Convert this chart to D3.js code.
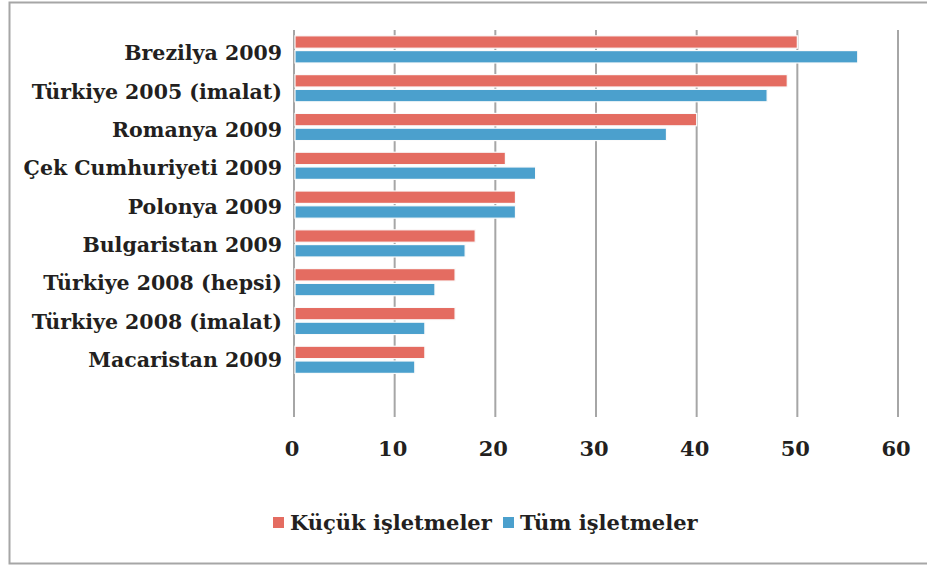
<!DOCTYPE html>
<html>
<head>
<meta charset="utf-8">
<script src="https://d3js.org/d3.v7.min.js"></script>
<style>
  body { margin: 0; background: #fff; }
  .lbl { font-family: "DejaVu Serif", serif; font-weight: bold; fill: #231f20; }
</style>
</head>
<body>
<div id="chart"></div>
<script>
// categories, top to bottom
var categories = [
  "Brezilya 2009",
  "Türkiye 2005 (imalat)",
  "Romanya 2009",
  "Çek Cumhuriyeti 2009",
  "Polonya 2009",
  "Bulgaristan 2009",
  "Türkiye 2008 (hepsi)",
  "Türkiye 2008 (imalat)",
  "Macaristan 2009"
];
var seriesNames = ["Küçük işletmeler", "Tüm işletmeler"];
var smallFirms = [50, 49, 40, 21, 22, 18, 16, 16, 13];
var allFirms = [56, 47, 37, 24, 22, 17, 14, 13, 12];
var xTicks = [0, 10, 20, 30, 40, 50, 60];
var colors = ["#e46c61", "#4ba0cd"];

var svgWidth = 927, svgHeight = 565;

var svg = d3.select("#chart")
  .append("svg")
  .attr("width", svgWidth)
  .attr("height", svgHeight);

// outer frame (right edge runs off the picture)
svg.append("rect")
  .attr("x", 9.5).attr("y", 2.5)
  .attr("width", 940).attr("height", 561)
  .attr("fill", "none")
  .attr("stroke", "#a6a6a6")
  .attr("stroke-width", 2);

var plotTop = 30, plotBottom = 417;

var x = d3.scaleLinear().domain([0, 60]).range([294, 898]);

// 9 categories, room for one more empty slot under the last one
var y = d3.scaleBand()
  .domain(categories)
  .range([plotTop, plotTop + 38.8 * 9])
  .paddingInner(0.3)
  .paddingOuter(0.15);

var ySub = d3.scaleBand()
  .domain(seriesNames)
  .range([0, y.bandwidth()])
  .paddingInner(0.16);

// gridlines
svg.append("g")
  .selectAll("line")
  .data(xTicks)
  .enter()
  .append("line")
  .attr("x1", d => x(d)).attr("x2", d => x(d))
  .attr("y1", plotTop).attr("y2", plotBottom)
  .attr("stroke", "#a6a6a6")
  .attr("stroke-width", 2);

// bars
var rows = categories.map(function(c, i) {
  return { cat: c, values: [smallFirms[i], allFirms[i]] };
});

var groups = svg.append("g")
  .selectAll("g")
  .data(rows)
  .enter()
  .append("g")
  .attr("transform", d => `translate(0, ${y(d.cat)})`);

groups.selectAll("rect")
  .data(d => d.values.map((v, j) => ({ name: seriesNames[j], value: v, j: j })))
  .enter()
  .append("rect")
  .attr("x", x(0) + 1)
  .attr("y", d => ySub(d.name))
  .attr("width", d => x(d.value) - x(0) - 1)
  .attr("height", ySub.bandwidth())
  .attr("fill", d => colors[d.j])
  .attr("stroke", "#fbfbfb")
  .attr("stroke-width", 1.2);

// category labels
svg.append("g")
  .selectAll("text")
  .data(categories)
  .enter()
  .append("text")
  .attr("class", "lbl")
  .attr("x", 282)
  .attr("y", (d, i) => y(d) + y.bandwidth() / 2 + 11 - i * 0.5)
  .attr("text-anchor", "end")
  .attr("font-size", "20.5px")
  .text(d => d);

// x tick labels
svg.append("g")
  .selectAll("text")
  .data(xTicks)
  .enter()
  .append("text")
  .attr("class", "lbl")
  .attr("x", d => x(d) - 2)
  .attr("y", 456)
  .attr("text-anchor", "middle")
  .attr("font-size", "21px")
  .text(d => d);

// legend
var legend = svg.append("g");
var legendX = [273, 503];
seriesNames.forEach(function(name, i) {
  legend.append("rect")
    .attr("x", legendX[i]).attr("y", 517)
    .attr("width", 11).attr("height", 11)
    .attr("fill", colors[i]);
  legend.append("text")
    .attr("class", "lbl")
    .attr("x", legendX[i] + 17)
    .attr("y", 530)
    .attr("font-size", "21px")
    .text(name);
});
</script>
</body>
</html>
